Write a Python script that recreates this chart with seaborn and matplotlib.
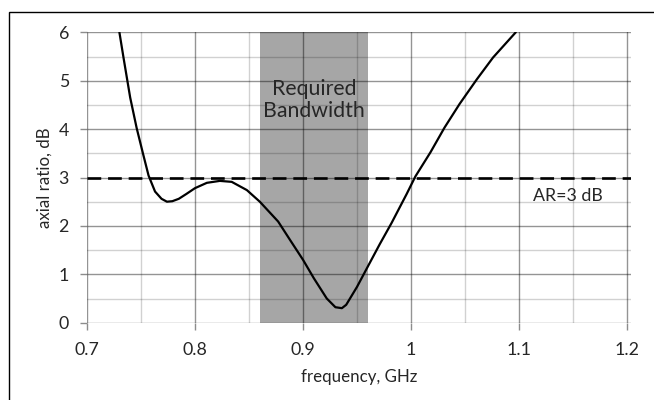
import numpy as np
import pandas as pd
import seaborn as sns
import matplotlib.pyplot as plt
from matplotlib.patches import Rectangle
from matplotlib.ticker import MultipleLocator

freq = [0.730, 0.734, 0.740, 0.746, 0.752, 0.757, 0.763, 0.769, 0.774, 0.779,
        0.785, 0.792, 0.800, 0.811, 0.823, 0.834, 0.848, 0.860, 0.877, 0.888,
        0.900, 0.910, 0.922, 0.930, 0.936, 0.940, 0.950, 0.960, 0.971, 0.982,
        0.996, 1.004, 1.018, 1.031, 1.045, 1.061, 1.076, 1.097]
axial_ratio = [6.0, 5.45, 4.65, 4.02, 3.48, 3.04, 2.71, 2.56, 2.50, 2.51,
               2.56, 2.66, 2.78, 2.89, 2.93, 2.91, 2.74, 2.50, 2.09, 1.71,
               1.30, 0.92, 0.50, 0.32, 0.30, 0.37, 0.74, 1.16, 1.62, 2.06,
               2.66, 3.02, 3.52, 4.03, 4.52, 5.03, 5.48, 6.0]
band = [0.86, 0.96]
ar_limit = 3

df = pd.DataFrame({'freq': freq, 'ar': axial_ratio})

sns.set_theme(style="white")
plt.rcParams['font.family'] = ['Lato', 'DejaVu Sans']

fig = plt.figure(figsize=(6.54, 4.0), dpi=100)
ax = fig.add_axes([87 / 654, 77.3 / 400, 544 / 654, 290.4 / 400])

ax.axvspan(band[0], band[1], color='#a6a6a6', zorder=0.2, lw=0)
ax.axhline(ar_limit, color='black', lw=1.9, dashes=(5.2, 2.6), zorder=3)
sns.lineplot(data=df, x='freq', y='ar', sort=False, color='black', lw=1.6, ax=ax, zorder=4)

ax.set_xlim(0.7, 1.2037)
ax.set_ylim(0, 6)
ax.xaxis.set_major_locator(MultipleLocator(0.1))
ax.xaxis.set_minor_locator(MultipleLocator(0.05))
ax.yaxis.set_major_locator(MultipleLocator(1))
ax.yaxis.set_minor_locator(MultipleLocator(0.5))
ax.xaxis.set_major_formatter(plt.FuncFormatter(lambda v, _: "{:g}".format(round(v, 2))))

ax.set_axisbelow(True)
ax.grid(which='major', color='black', alpha=0.42, lw=1)
ax.grid(which='minor', color='black', alpha=0.18, lw=1)
for s in ax.spines.values():
    s.set_visible(False)
ax.tick_params(axis='x', which='major', length=5, width=1, color='#8c8c8c', direction='out',
               labelsize=12.8, labelcolor='#262626', pad=9, bottom=True)
ax.tick_params(axis='y', which='major', length=5, width=1, color='#8c8c8c', direction='out',
               labelsize=12.8, labelcolor='#262626', pad=8, left=True)
ax.tick_params(which='minor', length=0)

ax.text(0.91, 4.6, 'Required\nBandwidth', ha='center', va='center', fontsize=15.3,
        color='#262626', linespacing=1.15, zorder=5)
ax.text(1.145, 2.62, 'AR=3 dB', ha='center', va='center', fontsize=12.8, color='#262626', zorder=5)

ax.set_xlabel('frequency, GHz', fontsize=12.2, color='#262626', labelpad=8)
ax.set_ylabel('axial ratio, dB', fontsize=12.2, color='#262626', labelpad=4)

fig.add_artist(Rectangle((9 / 654, -0.1), 1.2, 1.1 - 12 / 400, fill=False,
                         edgecolor='black', lw=1, transform=fig.transFigure, clip_on=False))

fig.savefig('out.png', dpi=100)
